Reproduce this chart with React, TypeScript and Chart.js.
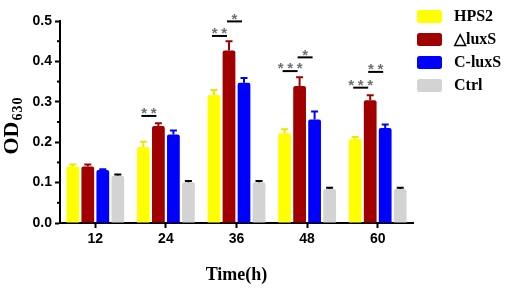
import React, { useEffect, useRef } from "react";
import { Chart, registerables } from "chart.js";

Chart.register(...registerables);

const categories = ["12", "24", "36", "48", "60"];
const seriesNames = ["HPS2", "\u25B3luxS", "C-luxS", "Ctrl"];
const seriesColors = ["#FFFF00", "#A00000", "#0000FF", "#D3D3D3"];
const errColors = ["#E8E800", "#A00000", "#0000FF", "#000000"];

const hps2 = [0.14, 0.188, 0.317, 0.222, 0.208];
const hps2Err = [0.005, 0.013, 0.012, 0.01, 0.005];
const luxS = [0.14, 0.24, 0.427, 0.339, 0.304];
const luxSErr = [0.005, 0.007, 0.023, 0.022, 0.012];
const cLuxS = [0.131, 0.219, 0.347, 0.256, 0.235];
const cLuxSErr = [0.002, 0.01, 0.012, 0.02, 0.009];
const ctrl = [0.117, 0.101, 0.101, 0.084, 0.084];
const ctrlErr = [0.003, 0.003, 0.003, 0.003, 0.003];

const seriesValues = [hps2, luxS, cLuxS, ctrl];
const seriesErrors = [hps2Err, luxSErr, cLuxSErr, ctrlErr];

// significance annotations
const sigCat = [1, 2, 2, 3, 3, 4, 4];
const sigFrom = [0, 0, 1, 0, 1, 0, 1];
const sigTo = [1, 1, 2, 1, 2, 1, 2];
const sigY = [0.265, 0.463, 0.499, 0.376, 0.41, 0.335, 0.374];
const sigLabel = ["**", "**", "*", "***", "*", "***", "**"];

const yTicks = [0, 0.1, 0.2, 0.3, 0.4, 0.5];
const yMinorTicks = [0.05, 0.15, 0.25, 0.35, 0.45];

const SERIF = '"Liberation Serif", "Times New Roman", serif';
const SANS = '"Liberation Sans", Arial, sans-serif';

const extrasPlugin = {
  id: "extras",
  afterDatasetsDraw(chart: any) {
    const ctx = chart.ctx;
    const yScale = chart.scales.y;
    const xScale = chart.scales.x;
    ctx.save();
    // error bars
    seriesErrors.forEach((errs, di) => {
      const meta = chart.getDatasetMeta(di);
      meta.data.forEach((el: any, i: number) => {
        const v = seriesValues[di][i];
        const yTop = yScale.getPixelForValue(v + errs[i]);
        ctx.strokeStyle = errColors[di];
        ctx.lineWidth = 2;
        ctx.beginPath();
        ctx.moveTo(el.x, el.y);
        ctx.lineTo(el.x, yTop);
        ctx.moveTo(el.x - 3.5, yTop);
        ctx.lineTo(el.x + 3.5, yTop);
        ctx.stroke();
      });
    });
    // significance
    sigCat.forEach((c, k) => {
      const a = chart.getDatasetMeta(sigFrom[k]).data[c];
      const b = chart.getDatasetMeta(sigTo[k]).data[c];
      const y = yScale.getPixelForValue(sigY[k]);
      const x1 = a.x - 2;
      const x2 = b.x - 2;
      ctx.strokeStyle = "#000";
      ctx.lineWidth = 2;
      ctx.beginPath();
      ctx.moveTo(x1, y);
      ctx.lineTo(x2, y);
      ctx.stroke();
      const n = sigLabel[k].length;
      const cx = (x1 + x2) / 2;
      const sp = 9.5;
      ctx.fillStyle = "#707070";
      ctx.font = `bold 15px ${SANS}`;
      ctx.textAlign = "center";
      ctx.textBaseline = "middle";
      for (let j = 0; j < n; j++) {
        const xx = cx + (j - (n - 1) / 2) * sp;
        ctx.fillText("*", xx, y - 2);
      }
    });
    // minor y ticks
    ctx.strokeStyle = "#000";
    ctx.lineWidth = 2;
    yMinorTicks.forEach((v) => {
      const y = yScale.getPixelForValue(v);
      ctx.beginPath();
      ctx.moveTo(xScale.left - 3, y);
      ctx.lineTo(xScale.left, y);
      ctx.stroke();
    });
    ctx.restore();
  },
  afterDraw(chart: any) {
    const ctx = chart.ctx;
    const area = chart.chartArea;
    ctx.save();
    // y title with subscript
    ctx.translate(11, 126);
    ctx.rotate(-Math.PI / 2);
    ctx.fillStyle = "#000";
    ctx.textBaseline = "alphabetic";
    ctx.textAlign = "left";
    ctx.font = `bold 22px ${SERIF}`;
    const w1 = ctx.measureText("OD").width;
    ctx.font = `bold 14px ${SERIF}`;
    (ctx as any).letterSpacing = "1px";
    const w2 = ctx.measureText("630").width;
    const start = -(w1 + w2) / 2;
    ctx.font = `bold 22px ${SERIF}`;
    (ctx as any).letterSpacing = "0px";
    ctx.fillText("OD", start, 7);
    ctx.font = `bold 14px ${SERIF}`;
    (ctx as any).letterSpacing = "1px";
    ctx.fillText("630", start + w1 + 1, 11);
    ctx.restore();

    ctx.save();
    // x title
    ctx.fillStyle = "#000";
    ctx.font = `bold 18px ${SERIF}`;
    ctx.textAlign = "center";
    ctx.textBaseline = "alphabetic";
    ctx.fillText("Time(h)", (area.left + area.right) / 2, 280);

    // legend
    chart.data.datasets.forEach((ds: any, i: number) => {
      const bx = 417;
      const by = 10 + i * 23;
      ctx.fillStyle = ds.backgroundColor;
      ctx.beginPath();
      (ctx as any).roundRect(bx, by, 25, 13, 2.5);
      ctx.fill();
      ctx.fillStyle = "#000";
      ctx.font = `bold 16px ${SERIF}`;
      ctx.textAlign = "left";
      ctx.textBaseline = "middle";
      ctx.fillText(ds.label, 454, by + 7);
    });
    ctx.restore();
  },
};

export default function App() {
  const ref = useRef<HTMLCanvasElement>(null);
  useEffect(() => {
    if (!ref.current) return;
    const chart = new Chart(ref.current, {
      type: "bar",
      data: {
        labels: categories,
        datasets: seriesNames.map((name, i) => ({
          label: name,
          data: seriesValues[i],
          backgroundColor: seriesColors[i],
          borderWidth: 0,
          borderRadius: { topLeft: 2, topRight: 2, bottomLeft: 0, bottomRight: 0 },
          borderSkipped: false,
          categoryPercentage: 0.85,
          barPercentage: 0.85,
        })),
      },
      options: {
        responsive: false,
        devicePixelRatio: 1,
        animation: false,
        layout: { padding: { left: 0, top: 21, right: 97, bottom: 0 } },
        plugins: {
          legend: { display: false },
          tooltip: { enabled: false },
        },
        scales: {
          x: {
            grid: {
              display: true,
              drawOnChartArea: false,
              drawTicks: true,
              tickLength: 5,
              tickColor: "#000",
              tickWidth: 2,
              offset: false,
            },
            border: { display: true, color: "#000", width: 2 },
            ticks: {
              color: "#000",
              font: { family: SANS, size: 14, weight: "bold" },
              padding: 3,
              maxRotation: 0,
            },
            afterFit(scale: any) {
              scale.height = 67;
            },
          },
          y: {
            min: 0,
            max: 0.5,
            grid: {
              display: true,
              drawOnChartArea: false,
              drawTicks: true,
              tickLength: 5,
              tickColor: "#000",
              tickWidth: 2,
            },
            border: { display: true, color: "#000", width: 2 },
            afterBuildTicks(scale: any) {
              scale.ticks = yTicks.map((v) => ({ value: v }));
            },
            ticks: {
              color: "#000",
              font: { family: SANS, size: 14, weight: "bold" },
              padding: 3,
              callback: (v: any) => Number(v).toFixed(1),
            },
            afterFit(scale: any) {
              scale.width = 60;
            },
          },
        },
      },
      plugins: [extrasPlugin],
    });
    return () => chart.destroy();
  }, []);
  return (
    <div style={{ position: "fixed", left: 0, top: 0, width: 510, height: 290, background: "#fff" }}>
      <canvas ref={ref} width={510} height={290} style={{ width: 510, height: 290 }} />
    </div>
  );
}
